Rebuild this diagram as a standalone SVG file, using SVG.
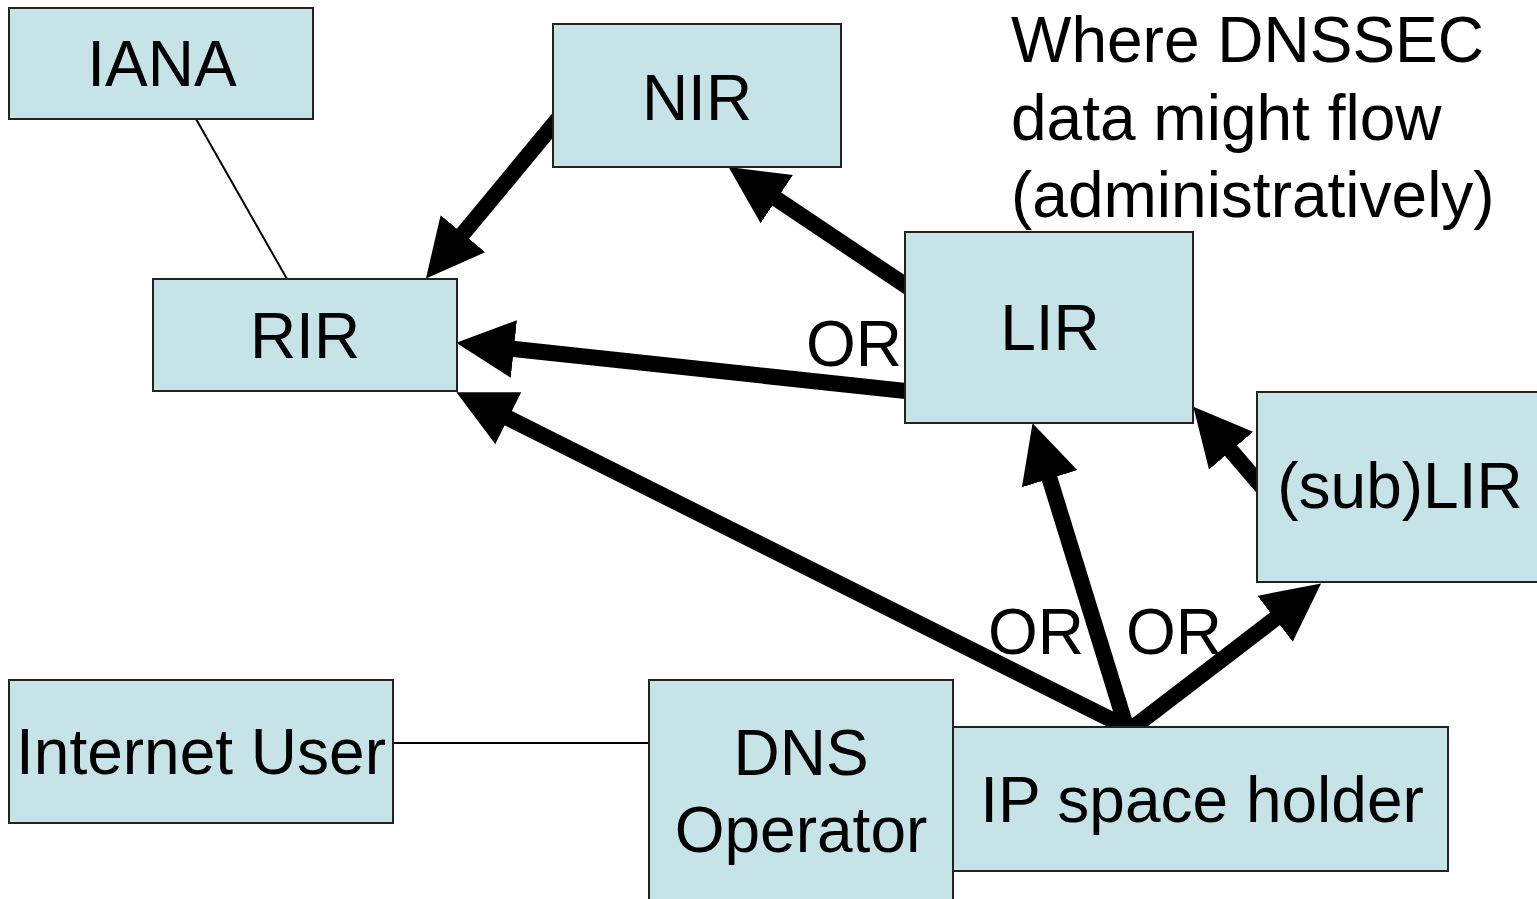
<svg xmlns="http://www.w3.org/2000/svg" width="1537" height="899" viewBox="0 0 1537 899">
<style>
.box{fill:#C6E4E8;stroke:#222;stroke-width:2}
.lbl{font-family:"Liberation Sans",Arial,sans-serif;font-size:64px;fill:#000}
.c{text-anchor:middle}
.thick{stroke:#000;stroke-width:16;fill:none;marker-end:url(#ah)}
.thin{stroke:#000;stroke-width:2;fill:none}
</style>
<defs>
<marker id="ah" markerUnits="userSpaceOnUse" markerWidth="58" markerHeight="58" viewBox="0 0 56 56" refX="6" refY="28" orient="auto">
<path d="M0,0 L56,28 L0,56 z" fill="#000"/>
</marker>
</defs>
<rect width="1537" height="899" fill="#fff"/>
<g id="connectors">
<line class="thin" x1="196" y1="119" x2="287" y2="279"/>
<line class="thin" x1="393" y1="743" x2="649" y2="743"/>
<line class="thick" x1="561" y1="115.4" x2="459" y2="238.5"/>
<line class="thick" x1="914" y1="291" x2="771.6" y2="195.7"/>
<line class="thick" x1="915" y1="392" x2="507.7" y2="348.3"/>
<line class="thick" x1="1136" y1="732" x2="502.7" y2="415.4"/>
<line class="thick" x1="1129" y1="736" x2="1047.8" y2="472.8"/>
<line class="thick" x1="1265" y1="490.4" x2="1227" y2="446"/>
<line class="thick" x1="1126" y1="733" x2="1280" y2="615"/>
<text class="lbl" x="806" y="366">OR</text>
<text class="lbl" x="988" y="654">OR</text>
<text class="lbl" x="1126" y="654">OR</text>
</g>
<g id="IANA"><rect class="box" x="9" y="8" width="304" height="111"/><text class="lbl c" x="162" y="86">IANA</text></g>
<g id="NIR"><rect class="box" x="553" y="24" width="288" height="143"/><text class="lbl c" x="697" y="120">NIR</text></g>
<g id="RIR"><rect class="box" x="153" y="279" width="304" height="112"/><text class="lbl c" x="305" y="358">RIR</text></g>
<g id="LIR"><rect class="box" x="905" y="232" width="288" height="191"/><text class="lbl c" x="1050" y="350">LIR</text></g>
<g id="subLIR"><rect class="box" x="1257" y="392" width="290" height="190"/><text class="lbl c" x="1400" y="508">(sub)LIR</text></g>
<g id="InternetUser"><rect class="box" x="9" y="680" width="384" height="143"/><text class="lbl c" x="201" y="774">Internet User</text></g>
<g id="DNSOperator"><rect class="box" x="649" y="680" width="304" height="230"/><text class="lbl c" x="801" y="775">DNS</text><text class="lbl c" x="801" y="852">Operator</text></g>
<g id="IPSpaceHolder"><rect class="box" x="953" y="727" width="495" height="144"/><text class="lbl c" x="1202" y="822">IP space holder</text></g>
<g id="title"><text class="lbl" x="1011" y="62">Where DNSSEC</text><text class="lbl" x="1011" y="140">data might flow</text><text class="lbl" x="1011" y="217">(administratively)</text></g>
</svg>
